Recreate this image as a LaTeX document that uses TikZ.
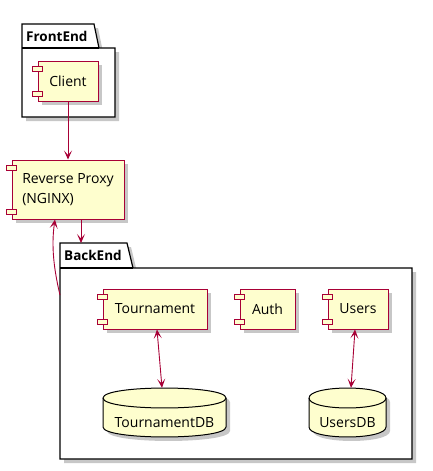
\documentclass[tikz,border=0pt]{standalone}
\usepackage{fontspec}
\setmainfont{Open Sans}
\usetikzlibrary{arrows.meta,shadows}

\definecolor{umlred}{HTML}{A80036}
\definecolor{umlyellow}{HTML}{FEFECE}

\tikzset{
    umlshadow/.style={drop shadow={shadow xshift=4pt, shadow yshift=-4pt, fill=black, opacity=0.22}},
    comp/.style={draw=umlred, fill=umlyellow, line width=1pt, inner sep=0pt,
        minimum height=40pt, font=\fontsize{14pt}{20pt}\selectfont, umlshadow},
    port/.style={draw=umlred, fill=umlyellow, line width=1pt},
    dbline/.style={draw=black, fill=umlyellow, line width=1pt},
    dbnode/.style={inner sep=0pt, minimum height=49pt, text height=30pt, text depth=0pt,
        font=\fontsize{14pt}{20pt}\selectfont},
    pkg/.style={draw=black, fill=white, line width=1.2pt},
    pkgtitle/.style={anchor=west, inner sep=0pt, font=\bfseries\fontsize{13.5pt}{16pt}\selectfont},
    link/.style={draw=umlred, line width=0.9pt, -{Stealth[length=9pt,width=8pt,inset=4.5pt]}},
    dblink/.style={link, {Stealth[length=9pt,width=8pt,inset=4.5pt]}-{Stealth[length=9pt,width=8pt,inset=4.5pt]}},
}

% two small port boxes on the left side of a component
\newcommand{\ports}[1]{%
    \draw[port] ([xshift=-5pt,yshift=-6pt]#1.north west) rectangle ++(10,5);
    \draw[port] ([xshift=-5pt,yshift=5pt]#1.south west) rectangle ++(10,-5);
}

% database cylinder: left, right, top
\newcommand{\dbcyl}[3]{%
    \draw[dbline, umlshadow] (#1,#3+10) -- (#1,#3+39) .. controls (#1,#3+52.3) and (#2,#3+52.3) .. (#2,#3+39)
        -- (#2,#3+10) .. controls (#2,#3-3.3) and (#1,#3-3.3) .. cycle;
    \draw[dbline, fill=none] (#1,#3+10) .. controls (#1,#3+23.3) and (#2,#3+23.3) .. (#2,#3+10);
}

\begin{document}
\begin{tikzpicture}[x=1pt, y=-1pt]
    \useasboundingbox (0,0) rectangle (432,471);

    %% FrontEnd package
    \draw[pkg, umlshadow] (22,24) -- (94,24) -- (99,48) -- (115,48) -- (115,117) -- (22,117) -- cycle;
    \draw[pkg] (22,48) -- (99,48);
    \node[pkgtitle] (fetitle) at (26,36) {FrontEnd};

    % Client
    \node[comp, minimum width=60pt] (client) at (68,81) {Client};
    \ports{client}

    % Reverse proxy
    \node[comp, minimum width=112pt, minimum height=59pt, align=left] (proxy) at (68,189.5) {Reverse Proxy\\(NGINX)};
    \ports{proxy}

    %% BackEnd package
    \draw[pkg, umlshadow] (60,243) -- (127,243) -- (133,268) -- (412,268) -- (412,459) -- (60,459) -- cycle;
    \draw[pkg] (60,268) -- (133,268);
    \node[pkgtitle] (betitle) at (64,255) {BackEnd};
    \coordinate (betop) at (81,243);
    \coordinate (beside) at (60,295);

    % Services
    \node[comp, minimum width=104pt] (tourn) at (155,309) {Tournament};
    \ports{tourn}
    \node[comp, minimum width=55pt] (auth) at (267.5,309) {Auth};
    \ports{auth}
    \node[comp, minimum width=60pt] (users) at (358,309) {Users};
    \ports{users}

    % Databases
    \dbcyl{103}{226}{388}
    \node[dbnode, minimum width=123pt] (tourndb) at (164.5,412.5) {TournamentDB};
    \dbcyl{309}{386}{388}
    \node[dbnode, minimum width=77pt] (usersdb) at (347.5,412.5) {UsersDB};

    % Links
    \draw[link] (client) -- (proxy);
    \draw[link] ([xshift=13pt]proxy.south) -- (betop);
    \draw[link] (beside) .. controls (52,262) and (52,240) .. ([xshift=-13pt]proxy.south);
    \draw[dblink] ([xshift=2pt]tourn.south) -- ([xshift=-2.5pt]tourndb.north);
    \draw[dblink] ([xshift=-3pt]users.south) -- ([xshift=3.5pt]usersdb.north);

\end{tikzpicture}
\end{document}
